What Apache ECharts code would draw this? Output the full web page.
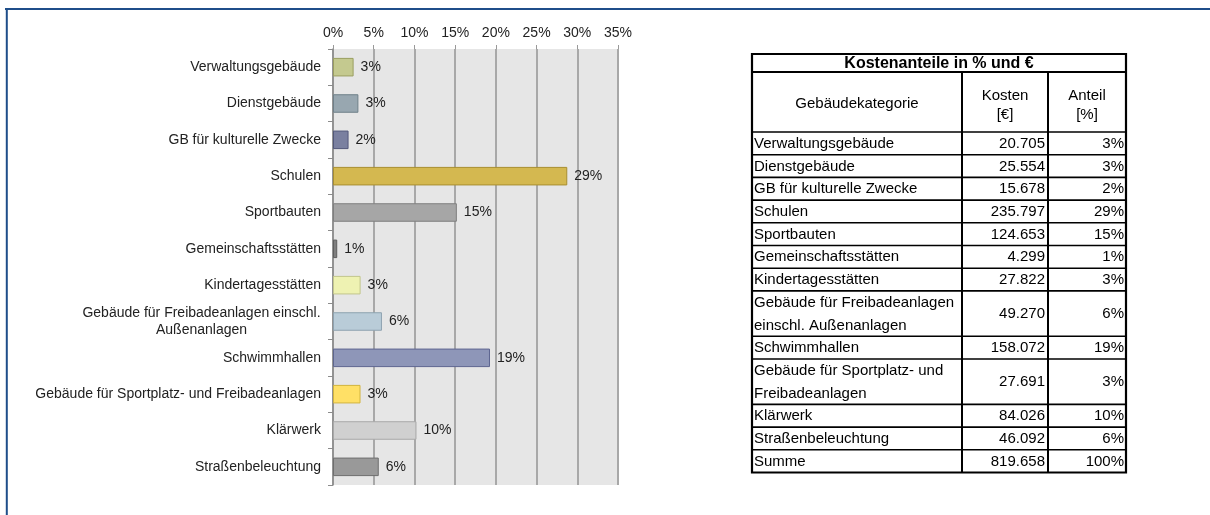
<!DOCTYPE html>
<html>
<head>
<meta charset="utf-8">
<title>Kostenanteile in % und €</title>
<script src="https://cdn.jsdelivr.net/npm/echarts@6/dist/echarts.min.js"></script>
<style>
  html, body { margin: 0; padding: 0; background: #fff; }
  #chart { width: 1210px; height: 515px; }
</style>
</head>
<body>
<div id="chart"></div>
<script>
  // Kategorien, wie sie im Diagramm stehen
  var kategorien = [
    'Verwaltungsgebäude', 'Dienstgebäude', 'GB für kulturelle Zwecke', 'Schulen',
    'Sportbauten', 'Gemeinschaftsstätten', 'Kindertagesstätten',
    'Gebäude für Freibadeanlagen einschl.\nAußenanlagen', 'Schwimmhallen',
    'Gebäude für Sportplatz- und Freibadeanlagen', 'Klärwerk', 'Straßenbeleuchtung'
  ]
  // dieselben Kategorien mit dem Umbruch aus der Tabelle
  var tabellenKategorien = [
    'Verwaltungsgebäude', 'Dienstgebäude', 'GB für kulturelle Zwecke', 'Schulen',
    'Sportbauten', 'Gemeinschaftsstätten', 'Kindertagesstätten',
    'Gebäude für Freibadeanlagen\neinschl. Außenanlagen', 'Schwimmhallen',
    'Gebäude für Sportplatz- und\nFreibadeanlagen', 'Klärwerk', 'Straßenbeleuchtung'
  ]
  // Kosten [€]
  var kosten = [20705, 25554, 15678, 235797, 124653, 4299, 27822, 49270, 158072, 27691, 84026, 46092]
  var kostenSumme = 819658
  // Anteil [%]
  var anteile = [2.53, 3.12, 1.91, 28.77, 15.21, 0.52, 3.39, 6.01, 19.28, 3.38, 10.25, 5.62]
  var anteilSumme = 100
  // Achse oben: 0% .. 35%
  var achseMin = 0
  var achseMax = 35
  var achseSchritt = 5

  var balkenFarben = ['#C4C98F', '#98A7B0', '#7A80A0', '#D4B850', '#A6A6A6', '#7F7F7F',
    '#EEF2B2', '#B9CCD8', '#8E96B8', '#FFE066', '#D0D0D0', '#999999']
  var randFarben = ['#9A9E60', '#6F8089', '#52587A', '#A88E30', '#7F7F7F', '#5E5E5E',
    '#C2C68C', '#8EA2B0', '#5E6690', '#D2B43E', '#A8A8A8', '#6E6E6E']

  var schrift = '"Liberation Sans", Arial, sans-serif'

  function tausender(n) {
    return String(n).replace(/\B(?=(\d{3})+(?!\d))/g, '.')
  }

  // Breite der längsten Zeile, damit zweizeilige Beschriftungen zentriert stehen
  function textBreite(txt, font) {
    var ctx = document.createElement('canvas').getContext('2d')
    ctx.font = font
    return Math.ceil(ctx.measureText(txt).width)
  }
  var zeilenBreite = 0
  kategorien.forEach(function (k) {
    if (k.indexOf('\n') >= 0) {
      k.split('\n').forEach(function (z) {
        zeilenBreite = Math.max(zeilenBreite, textBreite(z, '14px ' + schrift))
      })
    }
  })

  // Tabelle rechts als Grafikelemente
  function tabelle() {
    var x0 = 752, y0 = 54
    var spalten = [210, 86, 78]
    var titelH = 18, kopfH = 60, zeileH = 22.7
    var breite = spalten[0] + spalten[1] + spalten[2]
    var xs = [x0, x0 + spalten[0], x0 + spalten[0] + spalten[1], x0 + breite]
    var el = []
    var txt = function (t, x, y, align, extra) {
      var st = {
        text: t, x: x, y: y, align: align, verticalAlign: 'middle',
        font: '15px ' + schrift, fill: '#000', lineHeight: 22
      }
      for (var k in extra) st[k] = extra[k]
      el.push({ type: 'text', z: 10, style: st })
    }
    var linie = function (x1, y1, x2, y2, w) {
      el.push({ type: 'line', z: 5, shape: { x1: x1, y1: y1, x2: x2, y2: y2 }, style: { stroke: '#000', lineWidth: w } })
    }

    txt('Kostenanteile in % und €', x0 + breite / 2, y0 + titelH / 2 + 1, 'center', { font: 'bold 16px ' + schrift })
    var y = y0 + titelH
    linie(x0, y, x0 + breite, y, 2)
    txt('Gebäudekategorie', xs[0] + spalten[0] / 2, y + kopfH / 2 + 2, 'center')
    txt('Kosten\n[€]', xs[1] + spalten[1] / 2, y + kopfH / 2 + 3, 'center', { lineHeight: 19 })
    txt('Anteil\n[%]', xs[2] + spalten[2] / 2, y + kopfH / 2 + 3, 'center', { lineHeight: 19 })
    var yKopf = y
    y += kopfH

    var zeilen = tabellenKategorien.map(function (k, i) {
      return [k, tausender(kosten[i]), Math.round(anteile[i]) + '%']
    })
    zeilen.push(['Summe', tausender(kostenSumme), anteilSumme + '%'])

    zeilen.forEach(function (z) {
      linie(x0, y, x0 + breite, y, 1.6)
      var h = z[0].indexOf('\n') >= 0 ? 2 * zeileH : zeileH
      var m = y + h / 2 + 0.5
      txt(z[0], xs[0] + 2, m, 'left', { lineHeight: 23 })
      txt(z[1], xs[2] - 3, m, 'right')
      txt(z[2], xs[3] - 2, m, 'right')
      y += h
    })

    linie(xs[1], yKopf, xs[1], y, 2)
    linie(xs[2], yKopf, xs[2], y, 2)
    el.push({ type: 'rect', z: 6, shape: { x: x0, y: y0, width: breite, height: y - y0 }, style: { fill: 'none', stroke: '#000', lineWidth: 2.2 } })
    return el
  }

  var chart = echarts.init(document.getElementById('chart'), null, { renderer: 'canvas' })

  chart.setOption({
    animation: false,
    textStyle: { fontFamily: schrift },
    grid: {
      left: 333, top: 49, width: 285, height: 436,
      show: true, backgroundColor: '#E6E6E6', borderWidth: 0
    },
    xAxis: {
      type: 'value',
      position: 'top',
      min: achseMin,
      max: achseMax,
      interval: achseSchritt,
      axisLine: { show: false },
      axisTick: { show: true, length: 4, lineStyle: { color: '#999' } },
      axisLabel: { formatter: '{value}%', fontSize: 14, color: '#222', margin: 9 },
      splitLine: { show: true, lineStyle: { color: '#A8A8A8', width: 2 } }
    },
    yAxis: {
      type: 'category',
      inverse: true,
      data: kategorien,
      axisLine: { show: true, lineStyle: { color: '#8C8C8C', width: 1.5 } },
      axisTick: { show: true, length: 5, lineStyle: { color: '#8C8C8C' } },
      axisLabel: {
        margin: 12,
        fontSize: 14,
        color: '#222',
        lineHeight: 17,
        formatter: function (v) {
          if (v.indexOf('\n') < 0) return v
          return v.split('\n').map(function (s) { return '{z|' + s + '}' }).join('\n')
        },
        rich: {
          z: { width: zeilenBreite, align: 'center', fontSize: 14, color: '#222', lineHeight: 17 }
        }
      }
    },
    series: [
      {
        type: 'bar',
        barWidth: '51%',
        data: anteile.map(function (v, i) {
          return { value: v, itemStyle: { color: balkenFarben[i], borderColor: randFarben[i], borderWidth: 1 } }
        }),
        label: {
          show: true,
          position: 'right',
          distance: 7,
          fontSize: 14,
          color: '#222',
          formatter: function (p) { return Math.round(p.value) + '%' }
        }
      }
    ],
    graphic: [
      { type: 'line', shape: { x1: 5, y1: 9, x2: 1210, y2: 9 }, style: { stroke: '#1F4E8A', lineWidth: 2 } },
      { type: 'line', shape: { x1: 6.8, y1: 8, x2: 6.8, y2: 515 }, style: { stroke: '#1F4E8A', lineWidth: 2 } }
    ].concat(tabelle())
  })
</script>
</body>
</html>
